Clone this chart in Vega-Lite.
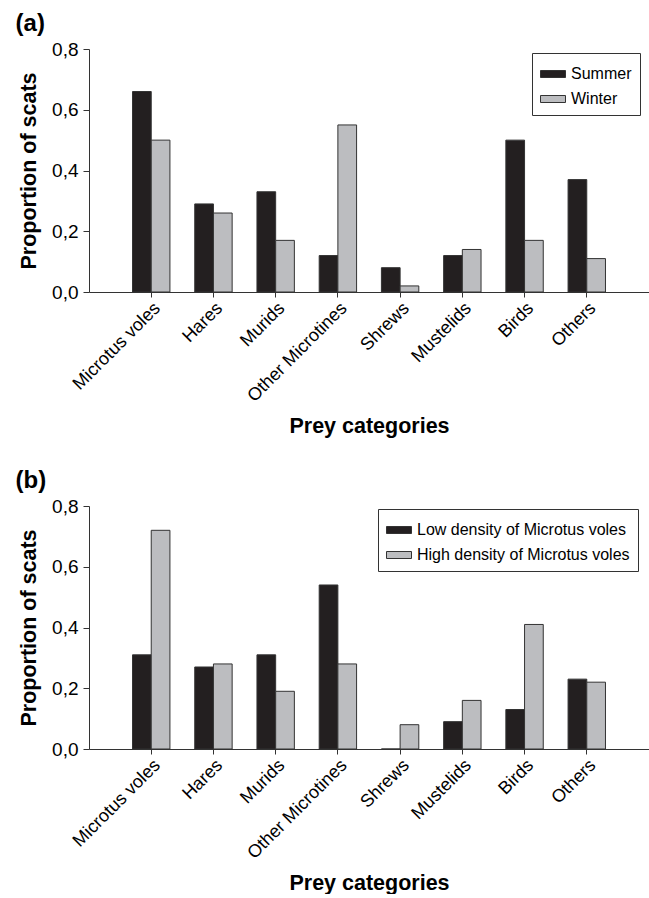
{
  "$schema": "https://vega.github.io/schema/vega-lite/v6.json",
  "padding": {"left": 15, "top": 12, "right": 0, "bottom": 0},
  "background": "white",
  "datasets": {
    "a": [
      {"category": "Microtus voles", "group": "Summer", "value": 0.66},
      {"category": "Microtus voles", "group": "Winter", "value": 0.50},
      {"category": "Hares", "group": "Summer", "value": 0.29},
      {"category": "Hares", "group": "Winter", "value": 0.26},
      {"category": "Murids", "group": "Summer", "value": 0.33},
      {"category": "Murids", "group": "Winter", "value": 0.17},
      {"category": "Other Microtines", "group": "Summer", "value": 0.12},
      {"category": "Other Microtines", "group": "Winter", "value": 0.55},
      {"category": "Shrews", "group": "Summer", "value": 0.08},
      {"category": "Shrews", "group": "Winter", "value": 0.02},
      {"category": "Mustelids", "group": "Summer", "value": 0.12},
      {"category": "Mustelids", "group": "Winter", "value": 0.14},
      {"category": "Birds", "group": "Summer", "value": 0.50},
      {"category": "Birds", "group": "Winter", "value": 0.17},
      {"category": "Others", "group": "Summer", "value": 0.37},
      {"category": "Others", "group": "Winter", "value": 0.11}
    ],
    "b": [
      {"category": "Microtus voles", "group": "Low density of Microtus voles", "value": 0.31},
      {"category": "Microtus voles", "group": "High density of Microtus voles", "value": 0.72},
      {"category": "Hares", "group": "Low density of Microtus voles", "value": 0.27},
      {"category": "Hares", "group": "High density of Microtus voles", "value": 0.28},
      {"category": "Murids", "group": "Low density of Microtus voles", "value": 0.31},
      {"category": "Murids", "group": "High density of Microtus voles", "value": 0.19},
      {"category": "Other Microtines", "group": "Low density of Microtus voles", "value": 0.54},
      {"category": "Other Microtines", "group": "High density of Microtus voles", "value": 0.28},
      {"category": "Shrews", "group": "Low density of Microtus voles", "value": 0},
      {"category": "Shrews", "group": "High density of Microtus voles", "value": 0.08},
      {"category": "Mustelids", "group": "Low density of Microtus voles", "value": 0.09},
      {"category": "Mustelids", "group": "High density of Microtus voles", "value": 0.16},
      {"category": "Birds", "group": "Low density of Microtus voles", "value": 0.13},
      {"category": "Birds", "group": "High density of Microtus voles", "value": 0.41},
      {"category": "Others", "group": "Low density of Microtus voles", "value": 0.23},
      {"category": "Others", "group": "High density of Microtus voles", "value": 0.22}
    ]
  },
  "config": {
    "font": "Liberation Sans",
    "view": {"stroke": null},
    "concat": {"spacing": 32},
    "axis": {
      "domainColor": "#333333",
      "tickColor": "#333333",
      "labelColor": "#000000",
      "titleColor": "#000000",
      "labelFont": "Liberation Sans",
      "titleFont": "Liberation Sans",
      "titleFontSize": 21.5,
      "titleFontWeight": "bold",
      "grid": false,
      "tickSize": 5
    },
    "legend": {
      "labelFont": "Liberation Sans",
      "labelFontSize": 16,
      "labelColor": "#000000",
      "labelLimit": 400,
      "strokeColor": "#333333",
      "fillColor": "white",
      "padding": 8,
      "rowPadding": 4,
      "labelOffset": 5,
      "symbolType": "M-1,-0.28H1V0.28H-1Z",
      "symbolSize": 625,
      "symbolStrokeColor": "#333333",
      "symbolStrokeWidth": 1,
      "symbolOpacity": 1
    }
  },
  "resolve": {"scale": {"fill": "independent", "x": "independent", "y": "independent"}, "legend": {"fill": "independent"}},
  "vconcat": [
    {
      "title": {"text": "(a)", "anchor": "start", "frame": "bounds", "fontSize": 24, "fontWeight": "bold", "font": "Liberation Sans", "color": "#000000", "offset": 4, "dx": -3},
      "width": 560,
      "height": 243,
      "data": {"name": "a"},
      "encoding": {
        "x": {"field": "category", "type": "nominal",
          "sort": ["Microtus voles", "Hares", "Murids", "Other Microtines", "Shrews", "Mustelids", "Birds", "Others"],
          "scale": {"paddingInner": 0, "paddingOuter": 0.5},
          "axis": {"title": "Prey categories", "labelAngle": -45, "labelFontSize": 18, "labelPadding": 2, "titlePadding": 10}},
        "y": {"field": "value", "type": "quantitative", "scale": {"domain": [0, 0.8]},
          "axis": {"title": "Proportion of scats", "values": [0, 0.2, 0.4, 0.6, 0.8], "labelExpr": "replace(format(datum.value, '.1f'), '.', ',')", "labelFontSize": 19, "labelPadding": 5, "titlePadding": 11, "tickSize": 6}},
        "fill": {"field": "group", "type": "nominal",
          "scale": {"domain": ["Summer", "Winter"], "range": ["#231f20", "#bcbdc0"]},
          "legend": {"title": null, "orient": "none", "legendX": 443, "legendY": 4}}
      },
      "layer": [
        {"transform": [{"filter": "datum.group === 'Summer'"}],
         "mark": {"type": "bar", "stroke": "#333333", "strokeWidth": 1, "width": 18.7, "xOffset": -9.35}},
        {"transform": [{"filter": "datum.group === 'Winter'"}],
         "mark": {"type": "bar", "stroke": "#333333", "strokeWidth": 1, "width": 18.7, "xOffset": 9.35}}
      ]
    },
    {
      "title": {"text": "(b)", "anchor": "start", "frame": "bounds", "fontSize": 24, "fontWeight": "bold", "font": "Liberation Sans", "color": "#000000", "offset": 4, "dx": -3},
      "width": 560,
      "height": 243,
      "data": {"name": "b"},
      "encoding": {
        "x": {"field": "category", "type": "nominal",
          "sort": ["Microtus voles", "Hares", "Murids", "Other Microtines", "Shrews", "Mustelids", "Birds", "Others"],
          "scale": {"paddingInner": 0, "paddingOuter": 0.5},
          "axis": {"title": "Prey categories", "labelAngle": -45, "labelFontSize": 18, "labelPadding": 2, "titlePadding": 10}},
        "y": {"field": "value", "type": "quantitative", "scale": {"domain": [0, 0.8]},
          "axis": {"title": "Proportion of scats", "values": [0, 0.2, 0.4, 0.6, 0.8], "labelExpr": "replace(format(datum.value, '.1f'), '.', ',')", "labelFontSize": 19, "labelPadding": 5, "titlePadding": 11, "tickSize": 6}},
        "fill": {"field": "group", "type": "nominal",
          "scale": {"domain": ["Low density of Microtus voles", "High density of Microtus voles"], "range": ["#231f20", "#bcbdc0"]},
          "legend": {"title": null, "orient": "none", "legendX": 289, "legendY": 3}}
      },
      "layer": [
        {"transform": [{"filter": "datum.group === 'Low density of Microtus voles'"}],
         "mark": {"type": "bar", "stroke": "#333333", "strokeWidth": 1, "width": 18.7, "xOffset": -9.35}},
        {"transform": [{"filter": "datum.group === 'High density of Microtus voles'"}],
         "mark": {"type": "bar", "stroke": "#333333", "strokeWidth": 1, "width": 18.7, "xOffset": 9.35}}
      ]
    }
  ]
}
